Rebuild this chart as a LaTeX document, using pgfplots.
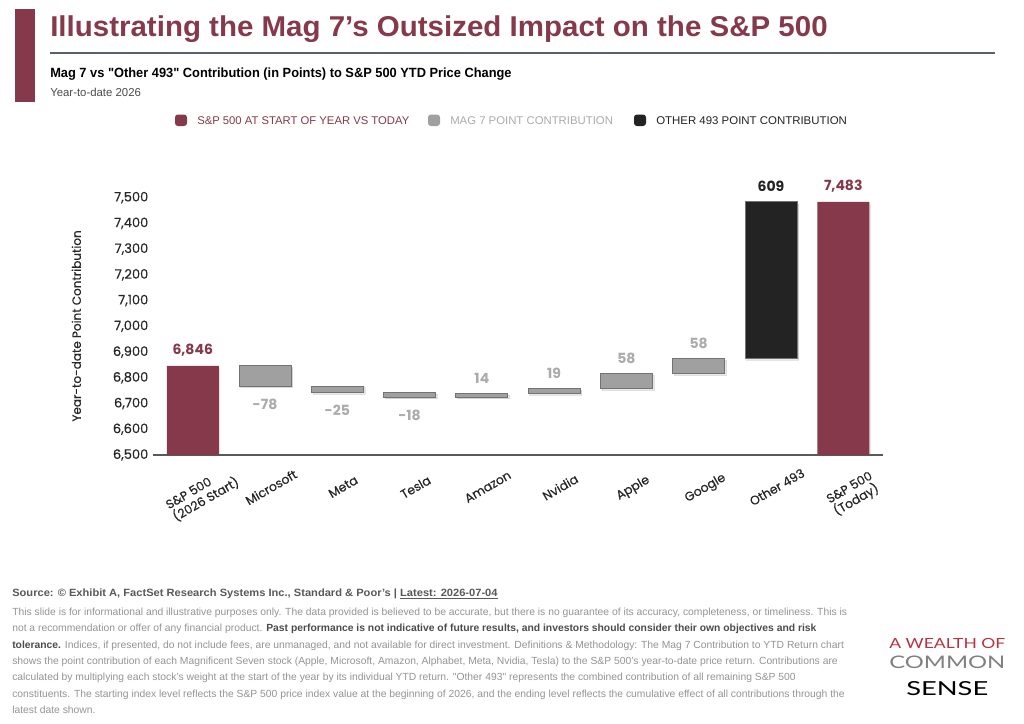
\documentclass[border=0pt]{standalone}
\usepackage{pgfplots}
\pgfplotsset{compat=1.18}
\usepackage{pgfplotstable}
\usepackage{fontspec}
\usepackage{graphicx}
\usetikzlibrary{shadows}
\setmainfont{Liberation Sans}
\newfontfamily\plainlib{Liberation Sans}
\newfontfamily\pop{Poppins}
\newfontfamily\popm{Poppins}[FakeBold=0.35]
\newfontfamily\lato{Lato}
\newcommand\q{{\plainlib"}}
\definecolor{maroon}{HTML}{86394B}
\definecolor{gbar}{HTML}{A0A0A0}
\definecolor{gedge}{HTML}{737373}
\definecolor{bbar}{HTML}{232323}
\definecolor{glab}{HTML}{ABABAB}
\definecolor{rulec}{HTML}{5A6070}
\definecolor{logored}{HTML}{B8333F}

\pgfplotstableread{
x base gray black maroon
0 0    0  0   6846
1 6768 78 0   0
2 6743 25 0   0
3 6725 18 0   0
4 6725 14 0   0
5 6739 19 0   0
6 6758 58 0   0
7 6816 58 0   0
8 6874 0  609 0
9 0    0  0   7483
}\bars
\pgfplotstableread{
x y label
0 6846 6,846
9 7483 7,483
}\labMaroon
\pgfplotstableread{
x y label
8 7483 609
}\labBlack
\pgfplotstableread{
x y label
4 6739 14
5 6758 19
6 6816 58
7 6874 58
}\labUp
\pgfplotstableread{
x y label
1 6768 -78
2 6743 -25
3 6725 -18
}\labDown

\begin{document}
\begin{tikzpicture}
\path[use as bounding box, fill=white] (0,0) rectangle (768pt,-543pt);
\begin{scope}[x=0.75pt,y=-0.75pt]
% left accent bar
\fill[maroon] (15,9) rectangle (35,102);
% title
\node[anchor=base west, inner sep=0, text=maroon] at (50,37)
  {\resizebox{583pt}{\height}{\fontsize{21.5pt}{24pt}\selectfont\bfseries Illustrating the Mag 7's Outsized Impact on the S\&P 500}};
\draw[rulec, line width=1.1pt] (50,53) -- (995,53);
\node[anchor=base west, inner sep=0, text=black] at (50,78)
  {\resizebox{346pt}{\height}{\fontsize{10pt}{12pt}\selectfont\bfseries Mag 7 vs \q Other 493\q{} Contribution (in Points) to S\&P 500 YTD Price Change}};
\node[anchor=base west, inner sep=0, text=black!70] at (50,97)
  {\resizebox{68pt}{\height}{\fontsize{8.6pt}{10pt}\selectfont Year-to-date 2026}};
% legend
\fill[maroon, rounded corners=2.2pt] (175,114.5) rectangle (187,126);
\node[anchor=base west, inner sep=0, text=maroon] at (197,124)
  {\resizebox{159pt}{\height}{\fontsize{8.4pt}{10pt}\selectfont S\&P 500 AT START OF YEAR VS TODAY}};
\fill[gbar, rounded corners=2.2pt] (428,114.5) rectangle (440,126);
\node[anchor=base west, inner sep=0, text=glab] at (450,124)
  {\resizebox{122pt}{\height}{\fontsize{8.4pt}{10pt}\selectfont MAG 7 POINT CONTRIBUTION}};
\fill[bbar, rounded corners=2.2pt] (634,114.5) rectangle (646,126);
\node[anchor=base west, inner sep=0, text=bbar] at (656,124)
  {\resizebox{143pt}{\height}{\fontsize{8.4pt}{10pt}\selectfont OTHER 493 POINT CONTRIBUTION}};
% footer
\node[anchor=base west, inner sep=0, text=black!65] at (12,596)
  {\resizebox{364pt}{\height}{\fontsize{7.9pt}{10pt}\selectfont\bfseries Source: \textcopyright{} Exhibit A, FactSet Research Systems Inc., Standard \& Poor's | \underline{Latest: 2026-07-04}}};
\begin{scope}[every node/.style={anchor=base west, inner sep=0, text=black!42, font=\fontsize{7.75pt}{8pt}\selectfont}]
\node at (12,615.5) {This slide is for informational and illustrative purposes only. The data provided is believed to be accurate, but there is no guarantee of its accuracy, completeness, or timeliness. This is};
\node at (12,631.8) {not a recommendation or offer of any financial product. \textbf{\color{black!70}Past performance is not indicative of future results, and investors should consider their own objectives and risk}};
\node at (12,648.1) {\textbf{\color{black!70}tolerance.} Indices, if presented, do not include fees, are unmanaged, and not available for direct investment. Definitions \& Methodology: The Mag 7 Contribution to YTD Return chart};
\node at (12,664.4) {shows the point contribution of each Magnificent Seven stock (Apple, Microsoft, Amazon, Alphabet, Meta, Nvidia, Tesla) to the S\&P 500's year-to-date price return. Contributions are};
\node at (12,680.7) {calculated by multiplying each stock's weight at the start of the year by its individual YTD return. \q Other 493\q{} represents the combined contribution of all remaining S\&P 500};
\node at (12,697.0) {constituents. The starting index level reflects the S\&P 500 price index value at the beginning of 2026, and the ending level reflects the cumulative effect of all contributions through the};
\node at (12,713.3) {latest date shown.};
\end{scope}
% logo
\node[anchor=base west, inner sep=0, text=logored] at (889,648)
  {\resizebox{87pt}{\height}{\lato\fontsize{10.5pt}{12pt}\selectfont A WEALTH OF}};
\node[anchor=base west, inner sep=0, text=black!50] at (889,668)
  {\resizebox{87pt}{\height}{\lato\fontsize{13pt}{14pt}\selectfont COMMON}};
\node[anchor=base west, inner sep=0, text=black] at (906,695)
  {\resizebox{61.5pt}{\height}{\lato\fontsize{14.5pt}{16pt}\selectfont SENSE}};
\end{scope}

\begin{axis}[
  at={(114.75pt,-341.25pt)}, anchor=south west,
  scale only axis, width=547.5pt, height=222pt,
  xmin=-0.55, xmax=9.55, ymin=6500, ymax=7650,
  ybar stacked, bar width=39pt,
  axis x line*=bottom, axis y line*=left,
  x axis line style={draw=black!65, line width=0.9pt},
  y axis line style={draw=none},
  major tick length=0pt,
  xtick={0,1,2,3,4,5,6,7,8,9},
  xticklabels={{S\&P 500\\(2026 Start)},Microsoft,Meta,Tesla,Amazon,Nvidia,Apple,Google,Other 493,{S\&P 500\\(Today)}},
  ytick={6500,6600,6700,6800,6900,7000,7100,7200,7300,7400,7500},
  /pgf/number format/1000 sep={,},
  /pgf/number format/assume math mode=true,
  yticklabel style={font=\popm\fontsize{9.75pt}{11pt}\selectfont, text=black!85},
  xticklabel style={font=\popm\fontsize{9.3pt}{10.5pt}\selectfont, text=black!85, align=left, yshift=-18pt, xshift=1pt, rotate=30, anchor=north},
  ylabel={Year-to-date Point Contribution},
  every axis y label/.style={at={(axis description cs:-0.105,0.436)}, rotate=90, anchor=center, font=\popm\fontsize{9pt}{11pt}\selectfont, text=black!85},
]
\addplot[draw=none, fill=none] table[x=x,y=base]{\bars};
\addplot[fill=gbar, draw=gedge, line width=0.7pt, drop shadow={opacity=0.18, shadow xshift=1.3pt, shadow yshift=-1.3pt}] table[x=x,y=gray]{\bars};
\addplot[fill=bbar, draw=gedge, line width=0.7pt, drop shadow={opacity=0.18, shadow xshift=1.3pt, shadow yshift=-1.3pt}] table[x=x,y=black]{\bars};
\addplot[fill=maroon, draw=none, drop shadow={opacity=0.18, shadow xshift=1.3pt, shadow yshift=-1.3pt}] table[x=x,y=maroon]{\bars};
\end{axis}

\begin{axis}[
  at={(114.75pt,-341.25pt)}, anchor=south west,
  scale only axis, width=547.5pt, height=222pt,
  xmin=-0.55, xmax=9.55, ymin=6500, ymax=7650,
  hide axis, clip=false,
]
\addplot[draw=none, nodes near coords, point meta=explicit symbolic,
  every node near coord/.append style={anchor=south, yshift=4pt, font=\pop\bfseries\fontsize{10.5pt}{12pt}\selectfont, text=maroon}]
  table[x=x,y=y,meta=label]{\labMaroon};
\addplot[draw=none, nodes near coords, point meta=explicit symbolic,
  every node near coord/.append style={anchor=south, yshift=4pt, font=\pop\bfseries\fontsize{10.5pt}{12pt}\selectfont, text=bbar}]
  table[x=x,y=y,meta=label]{\labBlack};
\addplot[draw=none, nodes near coords, point meta=explicit symbolic,
  every node near coord/.append style={anchor=south, yshift=4pt, font=\pop\bfseries\fontsize{10.5pt}{12pt}\selectfont, text=glab}]
  table[x=x,y=y,meta=label]{\labUp};
\addplot[draw=none, nodes near coords, point meta=explicit symbolic,
  every node near coord/.append style={anchor=north, yshift=-6pt, font=\pop\bfseries\fontsize{10.5pt}{12pt}\selectfont, text=glab}]
  table[x=x,y=y,meta=label]{\labDown};
\end{axis}
\end{tikzpicture}
\end{document}
